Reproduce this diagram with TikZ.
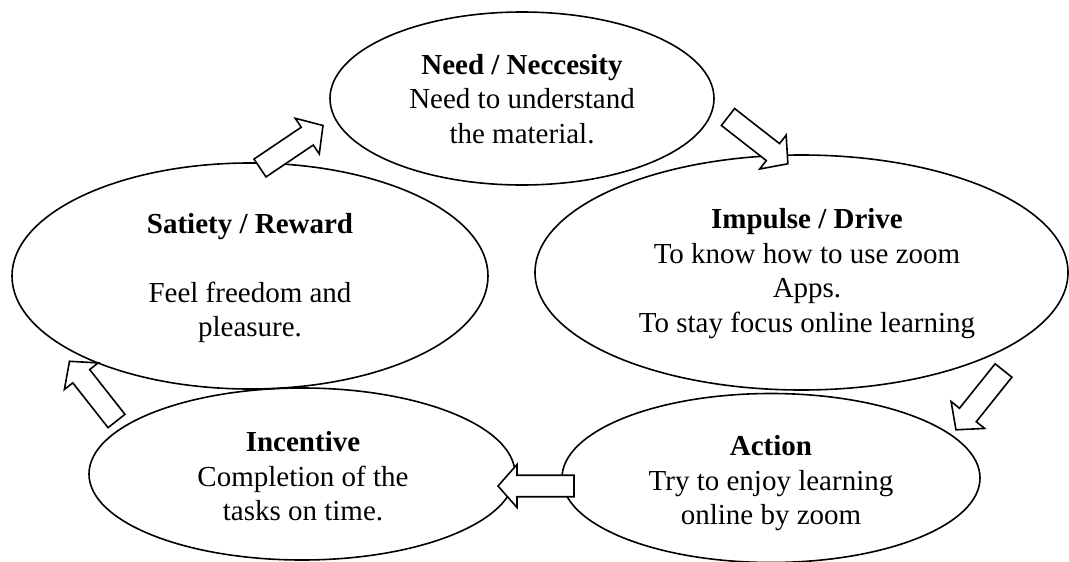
\documentclass[tikz,border=0pt]{standalone}
\usepackage{fontspec}
\setmainfont{Liberation Serif}
\usetikzlibrary{shapes.geometric}

\tikzset{
  pics/fatarrow/.style={code={
    \draw [line width=1.6pt,fill=white,line join=miter]
    (0,-10.75) -- (57,-10.75) -- (57,-21.5) -- (76,0) -- (57,21.5) -- (57,10.75) -- (0,10.75) -- cycle;
  }}
}

\begin{document}
\begin{tikzpicture}[x=1pt,y=1pt,
  stage/.style={ellipse,draw=black,line width=1.6pt,inner sep=0pt},
  stagetext/.style={align=center,inner sep=0pt,font=\fontsize{29}{34.5}\selectfont}]

  \useasboundingbox (0,0) rectangle (1069,-562);

  \node [stage,minimum width=384pt,minimum height=173pt] at (522,-98.5) (need) {};
  \node [stage,minimum width=476pt,minimum height=226pt] at (250,-276) (satiety) {};
  \node [stage,minimum width=533pt,minimum height=235pt] at (801.5,-272.5) (impulse) {};
  \node [stage,minimum width=418pt,minimum height=169pt] at (771,-478) (action) {};
  \node [stage,minimum width=426pt,minimum height=172pt] at (302,-474) (incentive) {};

  \node [stagetext] at (522,-99) (needtext) {\textbf{Need / Neccesity}\\Need to understand\\the material.};
  \node [stagetext] at (250,-278) (satietytext) {\textbf{Satiety / Reward}\\[34.5pt]Feel freedom and\\pleasure.};
  \node [stagetext] at (807,-273.5) (impulsetext) {\textbf{Impulse / Drive}\\To know how to use zoom\\Apps.\\To stay focus online learning};
  \node [stagetext] at (771,-483.5) (actiontext) {\textbf{Action}\\Try to enjoy learning\\online by zoom};
  \node [stagetext] at (303,-476.5) (incentivetext) {\textbf{Incentive}\\Completion of the\\tasks on time.};

  % block arrows round the cycle
  \pic [rotate=34] at (260,-168) {fatarrow};
  \pic [rotate=-38] at (728,-117) {fatarrow};
  \pic [rotate=231.3] at (1003.5,-370.5) {fatarrow};
  \pic [rotate=180] at (574,-486) {fatarrow};
  \pic [rotate=128.2] at (116.5,-421) {fatarrow};

\end{tikzpicture}
\end{document}
